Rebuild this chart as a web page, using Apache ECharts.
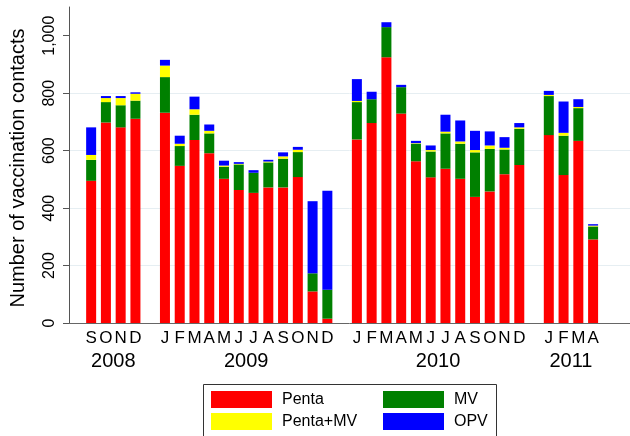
<!DOCTYPE html>
<html lang="en">
<head>
  <meta charset="UTF-8" />
  <title>Vaccination contacts by month</title>
  <script src="https://cdn.jsdelivr.net/npm/echarts@6/dist/echarts.min.js"></script>
  <style>
    html, body { margin: 0; padding: 0; background: #fff; }
    #chart { width: 630px; height: 436px; }
  </style>
</head>
<body>
  <div id="chart"></div>

  <script>
    // months Sep 2008 .. Apr 2011
    const years = ['2008', '2009', '2010', '2011'];
    const monthsPerYear = [4, 12, 12, 4];
    const monthLabels = [
      'S', 'O', 'N', 'D',
      'J', 'F', 'M', 'A', 'M', 'J', 'J', 'A', 'S', 'O', 'N', 'D',
      'J', 'F', 'M', 'A', 'M', 'J', 'J', 'A', 'S', 'O', 'N', 'D',
      'J', 'F', 'M', 'A'
    ];
    const penta = [
      495, 698, 681, 711,
      732, 547, 637, 591, 502, 463, 453, 472, 472, 508, 110, 15,
      639, 696, 925, 729, 563, 507, 537, 502, 439, 458, 518, 550,
      654, 515, 634, 291
    ];
    const mv = [
      73, 71, 77, 63,
      124, 69, 88, 69, 42, 89, 70, 87, 100, 87, 63, 101,
      130, 83, 105, 92, 61, 90, 123, 122, 155, 148, 86, 126,
      136, 137, 114, 45
    ];
    const pentaMv = [
      17, 14, 25, 24,
      40, 8, 19, 9, 4, 2, 0, 3, 8, 8, 0, 0,
      4, 0, 0, 0, 2, 5, 6, 8, 8, 12, 6, 5,
      4, 10, 4, 3
    ];
    const opv = [
      96, 7, 7, 5,
      20, 28, 44, 22, 17, 6, 9, 6, 14, 10, 251, 344,
      76, 26, 17, 8, 8, 16, 59, 73, 67, 49, 37, 15,
      14, 109, 27, 5
    ];
    const yTicks = [0, 200, 400, 600, 800, 1000];
    const yTitle = 'Number of vaccination contacts';

    // build category slots: one empty slot before, between years, two after
    const cats = [''];
    const slotOf = [];
    const yearCenter = [];
    let m = 0;
    monthsPerYear.forEach((n, yi) => {
      const first = cats.length;
      for (let k = 0; k < n; k++) {
        slotOf.push(cats.length);
        cats.push(monthLabels[m++]);
      }
      yearCenter.push((first + cats.length) / 2);
      cats.push('');
    });
    cats.push('');

    function spread(arr) {
      const out = cats.map(() => null);
      arr.forEach((v, i) => { out[slotOf[i]] = v; });
      return out;
    }

    const font = 'Arial, "Liberation Sans", sans-serif';
    const chart = echarts.init(document.getElementById('chart'), null, { renderer: 'canvas' });

    const mk = (name, data, color) => ({
      name: name,
      type: 'bar',
      stack: 'total',
      barWidth: 10,
      data: spread(data),
      itemStyle: { color: color },
      emphasis: { disabled: true }
    });

    chart.setOption({
      animation: false,
      textStyle: { fontFamily: font },
      grid: { left: 69, right: -2, top: 7, bottom: 113 },
      legend: [
        {
          data: ['Penta', 'Penta+MV'],
          orient: 'vertical',
          left: 211, top: 391, padding: 0,
          itemWidth: 61, itemHeight: 17, itemGap: 5,
          icon: 'rect',
          selectedMode: false,
          textStyle: { fontSize: 16, color: '#000', fontFamily: font, padding: [0, 0, 0, 5] }
        },
        {
          data: ['MV', 'OPV'],
          orient: 'vertical',
          left: 383, top: 391, padding: 0,
          itemWidth: 61, itemHeight: 17, itemGap: 5,
          icon: 'rect',
          selectedMode: false,
          textStyle: { fontSize: 16, color: '#000', fontFamily: font, padding: [0, 0, 0, 5] }
        }
      ],
      graphic: [
        {
          type: 'rect',
          z: -1,
          shape: { x: 203.5, y: 384.5, width: 293, height: 60 },
          style: { fill: '#fff', stroke: '#333', lineWidth: 1 }
        },
        {
          type: 'text',
          x: 18, y: 168,
          rotation: Math.PI / 2,
          style: {
            text: yTitle, fontSize: 20, fontFamily: font, fill: '#000',
            align: 'center', verticalAlign: 'middle'
          }
        }
      ],
      xAxis: [
        {
          type: 'category',
          data: cats,
          axisLine: { lineStyle: { color: '#666' } },
          axisTick: { show: false },
          axisLabel: { interval: 0, fontSize: 17, color: '#000', margin: 7 }
        },
        {
          type: 'value',
          min: 0,
          max: cats.length,
          position: 'bottom',
          axisLine: { show: false },
          axisTick: { show: false },
          splitLine: { show: false },
          axisLabel: {
            customValues: yearCenter,
            formatter: v => years[yearCenter.indexOf(v)] || '',
            fontSize: 20, color: '#000', margin: 28
          }
        }
      ],
      yAxis: {
        type: 'value',
        min: 0,
        max: 1100,
        axisLine: { show: true, lineStyle: { color: '#555' } },
        axisTick: { show: true, length: 6, customValues: yTicks, lineStyle: { color: '#555' } },
        axisLabel: {
          customValues: yTicks,
          rotate: 90,
          fontSize: 16,
          color: '#000',
          margin: 11,
          formatter: v => v.toLocaleString('en-US')
        },
        splitLine: { show: true, showMaxLine: false, lineStyle: { color: '#e6eef2' } }
      },
      series: [
        mk('Penta', penta, '#ff0000'),
        mk('MV', mv, '#008000'),
        mk('Penta+MV', pentaMv, '#ffff00'),
        mk('OPV', opv, '#0000ff')
      ]
    });
  </script>
</body>
</html>
